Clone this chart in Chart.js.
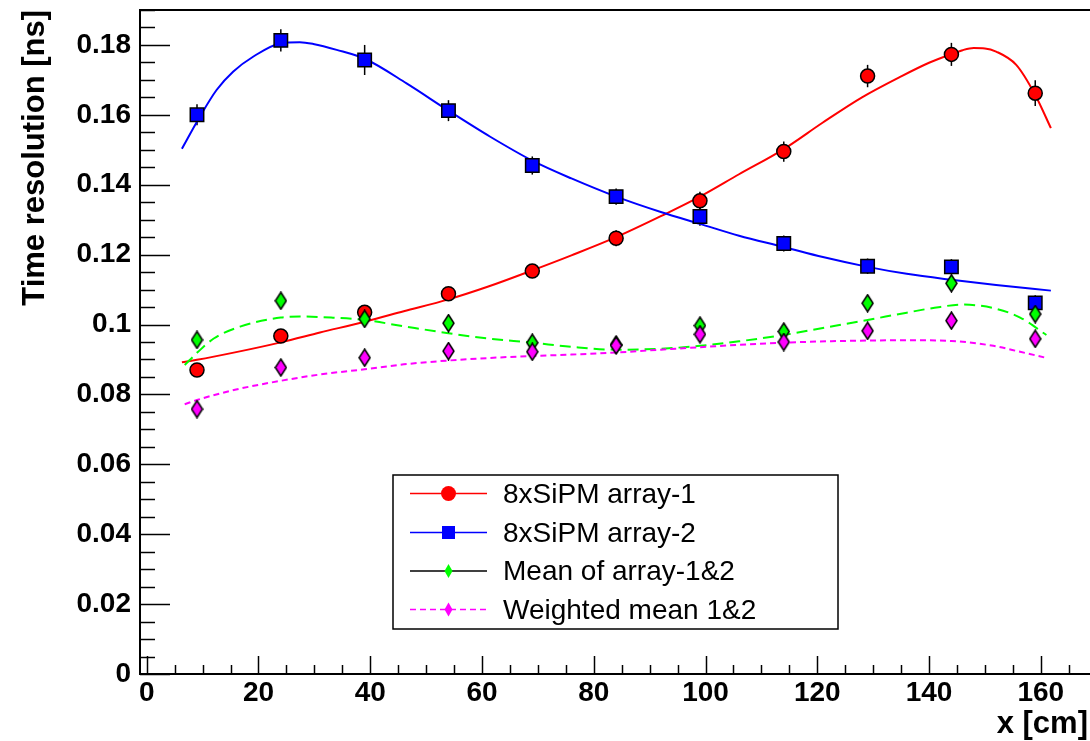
<!DOCTYPE html>
<html>
<head>
<meta charset="utf-8">
<script src="https://cdn.jsdelivr.net/npm/chart.js@4/dist/chart.umd.min.js"></script>
<style>
  html, body { margin: 0; padding: 0; background: #fff; }
  #wrap { width: 1090px; height: 741px; }
</style>
</head>
<body>
<div id="wrap"><canvas id="myChart" width="1090" height="741"></canvas></div>
<script>
//Measured points (x in cm, resolution in ns):
const xPos = [9, 24, 39, 54, 69, 84, 99, 114, 129, 144, 159];
const array1 = [0.0870, 0.0967, 0.1035, 0.1088, 0.1153, 0.1247, 0.1354, 0.1495, 0.1711, 0.1773, 0.1662];
const array1Err = [0.0018, 0.0018, 0.0018, 0.0018, 0.0020, 0.0023, 0.0026, 0.0029, 0.0032, 0.0033, 0.0037];
const array2 = [0.1600, 0.1813, 0.1757, 0.1612, 0.1455, 0.1366, 0.1309, 0.1232, 0.1167, 0.1165, 0.1062];
const array2Err = [0.0030, 0.0032, 0.0043, 0.0030, 0.0026, 0.0023, 0.0026, 0.0023, 0.0022, 0.0022, 0.0022];
const meanVals = [0.0956, 0.1068, 0.1016, 0.1004, 0.0948, 0.0943, 0.0997, 0.0980, 0.1061, 0.1118, 0.1030];
const wmeanVals = [0.0758, 0.0877, 0.0905, 0.0924, 0.0922, 0.0940, 0.0972, 0.0950, 0.0982, 0.1011, 0.0959];

//Fit curves:
const fit1X = [6.3, 9, 16, 24, 31, 39, 46, 54, 61, 69, 76, 84, 92, 99, 106, 114, 121, 128, 135, 140, 144, 146, 148, 150, 152, 155.6, 159, 161.8];
const fit1Y = [0.0892, 0.0899, 0.0921, 0.0949, 0.0977, 0.1008, 0.1038, 0.1072, 0.1108, 0.1155, 0.1198, 0.1250, 0.1310, 0.1366, 0.1430, 0.1502, 0.1578, 0.1650, 0.1710, 0.1749, 0.1774, 0.1785, 0.1791, 0.1790, 0.1781, 0.1743, 0.1657, 0.1562];
const fit2X = [6.3, 9.2, 12.5, 15.5, 19.1, 24, 27.4, 29.8, 34, 39.2, 46.5, 54, 61.4, 69, 76, 84, 92, 99, 106, 114, 121, 129, 136, 144, 152, 161.8];
const fit2Y = [0.1503, 0.1586, 0.1671, 0.1724, 0.1767, 0.1805, 0.1808, 0.1803, 0.1786, 0.1759, 0.1690, 0.1612, 0.1538, 0.1469, 0.1418, 0.1366, 0.1322, 0.1288, 0.1254, 0.1222, 0.1193, 0.1165, 0.1145, 0.1128, 0.1113, 0.1097];
const fitMeanX = [6.8, 9.2, 12, 16.7, 24, 27.4, 33, 39, 46, 54, 61, 69, 76, 84, 91, 99, 106, 114, 121, 129, 136, 141, 146, 151.5, 156.3, 161];
const fitMeanY = [0.0884, 0.0922, 0.0960, 0.0994, 0.1020, 0.1023, 0.1020, 0.1013, 0.0995, 0.0975, 0.0960, 0.0948, 0.0936, 0.0928, 0.0930, 0.0939, 0.0952, 0.0970, 0.0990, 0.1013, 0.1034, 0.1048, 0.1057, 0.1047, 0.1020, 0.0970];
const fitWX = [6.8, 9, 16, 24, 31, 39, 46, 54, 61, 69, 76, 84, 92, 99, 106, 114, 124.6, 136, 144, 151.5, 156.3, 160.6];
const fitWY = [0.0772, 0.0784, 0.0814, 0.0839, 0.0857, 0.0872, 0.0886, 0.0897, 0.0904, 0.0910, 0.0914, 0.0920, 0.0928, 0.0935, 0.0942, 0.0948, 0.0953, 0.0955, 0.0953, 0.0939, 0.0922, 0.0906];

//Axes:
const xTicks = [0, 20, 40, 60, 80, 100, 120, 140, 160];
const yTicks = [0, 0.02, 0.04, 0.06, 0.08, 0.1, 0.12, 0.14, 0.16, 0.18];
const legendLabels = ["8xSiPM array-1", "8xSiPM array-2", "Mean of array-1&2", "Weighted mean 1&2"];

const toXY = (xs, ys) => xs.map((x, i) => ({x: x, y: ys[i]}));

function diamond(color, outline) {
    const c = document.createElement("canvas");
    c.width = 13; c.height = 19;
    const g = c.getContext("2d");
    g.beginPath();
    g.moveTo(6.5, 1); g.lineTo(12, 9.5); g.lineTo(6.5, 18); g.lineTo(1, 9.5); g.closePath();
    g.fillStyle = color; g.fill();
    if (outline) { g.strokeStyle = "#000"; g.lineWidth = 1.5; g.stroke(); }
    return c;
}
const greenDiamond = diamond("#00ff00", true);
const magentaDiamond = diamond("#ff00ff", true);

const font = "Liberation Sans, Arial, Helvetica, sans-serif";

//Error bars, frame, ticks, titles and legend:
const rootStyle = {
    id: "rootStyle",
    beforeDatasetsDraw(chart) {
        const ctx = chart.ctx, xs = chart.scales.x, ys = chart.scales.y;
        ctx.save();
        ctx.strokeStyle = "#000";
        ctx.lineWidth = 1.5;
        [[array1, array1Err], [array2, array2Err]].forEach(([vals, errs]) => {
            vals.forEach((v, i) => {
                const px = xs.getPixelForValue(xPos[i]);
                ctx.beginPath();
                ctx.moveTo(px, ys.getPixelForValue(v - errs[i]));
                ctx.lineTo(px, ys.getPixelForValue(v + errs[i]));
                ctx.stroke();
            });
        });
        ctx.restore();
    },
    afterDraw(chart) {
        const ctx = chart.ctx, xs = chart.scales.x, ys = chart.scales.y;
        const a = chart.chartArea;
        ctx.save();
        ctx.strokeStyle = "#000";
        ctx.lineWidth = 2;
        ctx.beginPath();
        ctx.moveTo(chart.width, a.top); ctx.lineTo(a.left, a.top);
        ctx.lineTo(a.left, a.bottom); ctx.lineTo(chart.width, a.bottom);
        ctx.stroke();

        ctx.lineWidth = 1.5;
        for (let k = 0; k <= 38; k++) {
            const v = k * 0.005;
            const py = Math.round(ys.getPixelForValue(v)) + 0.5;
            const len = (k % 4 === 0) ? 30 : 15;
            ctx.beginPath(); ctx.moveTo(a.left, py); ctx.lineTo(a.left + len, py); ctx.stroke();
        }
        for (let k = 0; k <= 33; k++) {
            const v = k * 5;
            const px = Math.round(xs.getPixelForValue(v)) + 0.5;
            const len = (k % 4 === 0) ? 18 : 9;
            ctx.beginPath(); ctx.moveTo(px, a.bottom); ctx.lineTo(px, a.bottom - len); ctx.stroke();
        }

        //axis titles
        ctx.fillStyle = "#000";
        ctx.font = "bold 31px " + font;
        ctx.textAlign = "right";
        ctx.textBaseline = "alphabetic";
        ctx.fillText("x [cm]", 1088, 733);
        ctx.translate(44, 10);
        ctx.rotate(-Math.PI / 2);
        ctx.fillText("Time resolution [ns]", 0, 0);
        ctx.restore();

        //legend
        ctx.save();
        const bx = 393, by = 475, bw = 445, bh = 154;
        ctx.fillStyle = "#fff";
        ctx.fillRect(bx, by, bw, bh);
        ctx.strokeStyle = "#000";
        ctx.lineWidth = 1.5;
        ctx.strokeRect(bx, by, bw, bh);
        const rows = [493.5, 532.5, 571, 609.5];
        const lineCols = ["#ff0000", "#0000ff", "#000000", "#ff00ff"];
        const markCols = ["#ff0000", "#0000ff", "#00ff00", "#ff00ff"];
        rows.forEach((ry, i) => {
            ctx.strokeStyle = lineCols[i];
            ctx.lineWidth = 1.5;
            ctx.setLineDash(i === 3 ? [6, 4] : []);
            ctx.beginPath(); ctx.moveTo(410, ry); ctx.lineTo(487, ry); ctx.stroke();
            ctx.setLineDash([]);
            ctx.fillStyle = markCols[i];
            ctx.beginPath();
            if (i === 0) ctx.arc(448.5, ry, 7.5, 0, Math.PI * 2);
            else if (i === 1) ctx.rect(442, ry - 6.5, 13, 13);
            else { ctx.moveTo(448.5, ry - 7); ctx.lineTo(452.5, ry); ctx.lineTo(448.5, ry + 7); ctx.lineTo(444.5, ry); ctx.closePath(); }
            ctx.fill();
            ctx.fillStyle = "#000";
            ctx.font = "28px " + font;
            ctx.textAlign = "left";
            ctx.textBaseline = "alphabetic";
            ctx.fillText(legendLabels[i], 503, ry + 9);
        });
        ctx.restore();
    }
};

const lineDs = (label, xs, ys, color, dash, order) => ({
    type: "line", label: label, data: toXY(xs, ys),
    borderColor: color, borderWidth: 2, borderDash: dash,
    pointRadius: 0, fill: false, cubicInterpolationMode: "monotone", order: order
});

const ctx = document.getElementById("myChart").getContext("2d");

const chart = new Chart(ctx, {
    type: "scatter",
    data: {
        datasets: [
            { label: legendLabels[3], data: toXY(xPos, wmeanVals), pointStyle: magentaDiamond, order: 1 },
            { label: legendLabels[2], data: toXY(xPos, meanVals), pointStyle: greenDiamond, order: 2 },
            { label: legendLabels[1], data: toXY(xPos, array2), pointStyle: "rect", pointRadius: 9.5,
              backgroundColor: "#0000ff", borderColor: "#000", borderWidth: 1.5, order: 3 },
            { label: legendLabels[0], data: toXY(xPos, array1), pointStyle: "circle", pointRadius: 7,
              backgroundColor: "#ff0000", borderColor: "#000", borderWidth: 1.5, order: 4 },
            lineDs("fit w", fitWX, fitWY, "#ff00ff", [6, 4], 5),
            lineDs("fit mean", fitMeanX, fitMeanY, "#00ff00", [11, 6], 6),
            lineDs("fit 2", fit2X, fit2Y, "#0000ff", [], 7),
            lineDs("fit 1", fit1X, fit1Y, "#ff0000", [], 8)
        ]
    },
    options: {
        responsive: false,
        animation: false,
        devicePixelRatio: 1,
        layout: { autoPadding: false, padding: { top: 10, left: 0, right: 0, bottom: 0 } },
        plugins: { legend: { display: false }, tooltip: { enabled: false } },
        elements: { point: { hoverRadius: 0 } },
        scales: {
            x: {
                type: "linear", min: -1.2, max: 168.8,
                grid: { display: false, drawTicks: false },
                border: { display: false },
                afterBuildTicks: s => { s.ticks = xTicks.map(v => ({value: v})); },
                afterFit: s => { s.height = 67; s.paddingLeft = 0; s.paddingRight = 0; },
                ticks: { color: "#000", padding: 2, maxRotation: 0, autoSkip: false,
                         font: { family: font, size: 28, weight: "bold" },
                         callback: v => String(v) }
            },
            y: {
                type: "linear", min: 0, max: 0.19,
                grid: { display: false, drawTicks: false },
                border: { display: false },
                afterBuildTicks: s => { s.ticks = yTicks.map(v => ({value: v})); },
                afterFit: s => { s.width = 140; s.paddingTop = 0; s.paddingBottom = 0; },
                ticks: { color: "#000", padding: 9, autoSkip: false,
                         font: { family: font, size: 28, weight: "bold" },
                         callback: v => String(v) }
            }
        }
    },
    plugins: [rootStyle]
});
</script>
</body>
</html>
